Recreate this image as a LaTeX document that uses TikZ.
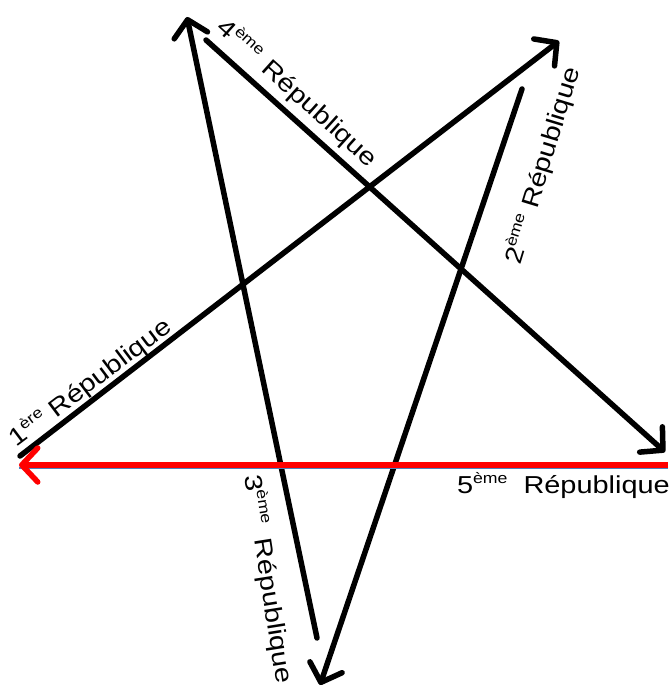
\documentclass[tikz,border=0pt]{standalone}
\usepackage{fontspec}
\setmainfont{Liberation Sans}
\newfontfamily\labfont[FakeStretch=1.18]{Liberation Sans}
\usetikzlibrary{arrows.meta}
\newcommand{\expo}[1]{\raisebox{10pt}{\fontsize{15}{15}\selectfont #1}}
\begin{document}
\begin{tikzpicture}[x=1pt,y=-1pt,
  arr/.style={line width=5.5pt, line cap=round, -{Straight Barb[length=16pt,width=34pt,round]}},
  lab/.style={font=\labfont\fontsize{24.5}{24.5}\selectfont, inner sep=0pt}]
\useasboundingbox (0,0) rectangle (670,688);
% end points
\coordinate (a1) at (20,456);  \coordinate (b1) at (559,41);
\coordinate (a2) at (522,89);  \coordinate (b2) at (320,685);
\coordinate (a3) at (317,638); \coordinate (b3) at (187,17);
\coordinate (a4) at (206,40);  \coordinate (b4) at (665,452);
\coordinate (a5) at (668,465); \coordinate (b5) at (19,465);
\coordinate (c5) at (668,468); \coordinate (d5) at (19,468);
% connectors
\draw[arr] (a1) -- (b1);
\draw[arr] (a2) -- (b2);
\draw[arr] (a3) -- (b3);
\draw[arr] (a4) -- (b4);
\draw[line width=1.5pt, color={rgb,255:red,79;green,129;blue,189}] (c5) -- (d5);
\draw[arr, red, line cap=butt] (a5) -- (b5);
% labels
\node[lab, anchor=base, rotate=37] (l1) at (95,389) {1\expo{ère} République};
\node[lab, anchor=base, rotate=73] (l2) at (550,168) {2\expo{ème} République};
\node[lab, anchor=base west, rotate=-81] (l3) at (244,476) {3\expo{ème}\hspace{14pt}République};
\node[lab, anchor=base, rotate=-42] (l4) at (292,99) {4\expo{ème}\hspace{10pt}République};
\node[lab, anchor=base east] (l5) at (670,493) {5\expo{ème}\hspace{16pt}République};
\end{tikzpicture}
\end{document}
